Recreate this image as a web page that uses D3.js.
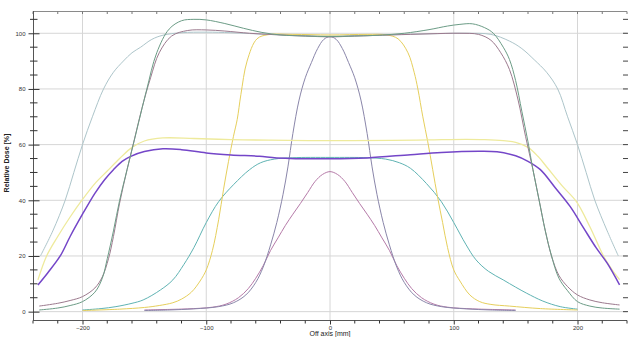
<!DOCTYPE html>
<html><head><meta charset="utf-8">
<script src="https://cdn.jsdelivr.net/npm/d3@7"></script>
<style>html,body{margin:0;padding:0;background:#fff;overflow:hidden}svg{display:block}</style>
</head><body><svg id="c" width="632" height="337"></svg>
<script>
// ---- data (offset in mm, relative dose in %) ----
const xTicks = [-200, -100, 0, 100, 200];
const yTicks = [0, 20, 40, 60, 80, 100];

const wideOffset = [-234,-224,-214,-207,-200,-192,-183,-175,-167,-160,-153,-144,-135,-120,-100,-80,-50,-20,0,20,50,80,110,130,145,155,165,175,184,192,200,207,214,224,233];
const wideDose   = [20,29,40,50,60,70,80,86,90,93,95,97.8,99.3,100.2,100.4,100.2,99.6,99.2,99,99.2,99.5,99.8,100,99.6,97.2,94.5,90.5,86,80,70,60,50,40,29,20];

const greenOffset = [-235,-220,-210,-200,-190,-184,-180,-175,-170,-164,-159,-153,-148,-140,-130,-120,-110,-100,-85,-70,-55,-40,-20,0,20,40,60,80,95,105,115,125,132,140,145,150,155,160,164,169,174,179,185,192,200,210,220,234];
const greenDose   = [0.6,1.3,2.2,3.6,7,12,19,29,40,51,60,71,80,93,101.5,104.5,105,104.8,103.5,101.8,100.3,99.4,99,98.8,99,99.3,100,101.3,102.6,103.2,103.4,102,100,95,90.6,83,72,61,51,40,29,20,12,7.5,3.6,2,1.3,0.9];

const mauveOffset = [-235,-220,-210,-200,-190,-184,-179,-175,-170,-164,-158,-152,-145,-138,-128,-115,-100,-85,-65,-45,-20,0,20,50,80,105,120,130,138,145,152,158,164,169,174,179,185,192,200,210,220,234];
const mauveDose   = [2,3,4,5.4,8.5,12.5,19,27,39,51,62,73,84,93,99,101,101.2,100.8,100,99.5,99,98.7,99,99.4,99.8,100,99.6,97.5,93,87,76,63,51,40,29,20,13,9,6,4.2,3.2,2.4];

const field20Offset = [-200,-170,-150,-138,-127,-120,-112,-105,-100,-95,-90,-86,-82,-78,-75,-72,-67,-59,-50,-30,0,30,46,55,63,68,71,75,79,83,87,91,95,100,105,113,121,130,145,170,200];
const field20Dose   = [0.4,0.9,1.5,2.2,3.2,4.5,7,11,15,22,33,44,54,63,69,78,90,98,99.5,99.6,99.4,99.6,99.4,98,93,86,80,70,61,51,41,32,23,15,11,6,3.6,2.6,2,1.1,0.6];

const narrowOffset = [-150,-130,-110,-90,-78,-68,-60,-54,-48,-43,-38,-34,-30,-25,-20,-15,-10,-5,0,5,10,15,20,25,30,34,38,43,48,54,60,68,78,90,110,130,150];
const narrowDose   = [0.4,0.6,1,1.8,3.2,6,10.5,16,24,32,42,52,64,76,84,89.5,94.5,97.8,98.8,97.8,94.5,89.5,84,76,64,52,42,32,24,16,10.5,6,3.2,1.8,1,0.6,0.4];

const paleOffset = [-236,-229,-220,-210,-200,-190,-180,-170,-160,-150,-135,-110,-80,-50,0,50,80,110,125,140,150,160,168,176,188,199,210,221,228,234];
const paleDose   = [11.4,20,27,34,40.3,46,50.5,55,59,61.3,62.4,62.2,61.8,61.6,61.4,61.5,61.7,61.9,61.8,61.4,60.8,59,55.8,51.5,45,39.6,30.5,20,15,11.5];

const purpleOffset = [-236,-228,-218,-210,-200,-190,-182,-175,-168,-161,-150,-135,-120,-100,-80,-57,-43,0,30,65,90,121,135,150,160,170,182,194,205,215,224,234];
const purpleDose   = [9.6,14,20,27,35,42.5,47.5,51,54,55.8,57.5,58.5,58.2,57,56.3,55.8,55.2,54.9,55.2,56.4,57.2,57.6,57.4,56,54,51,44.5,37.8,30,23,17.4,9.6];

const tealOffset = [-200,-185,-173,-160,-151,-137,-127,-118,-110,-100,-90,-78,-65,-56,-45,-30,0,30,45,56,65,78,90,100,110,118,128,140,150,159,172,186,200];
const tealDose   = [0.6,1.1,1.8,3,4.2,7.8,11.4,17,23,32,39.5,45.6,51,53.5,54.8,55.3,55.4,55.3,54.8,53.5,51.5,46,39.5,32,24,18.6,14.5,11.4,8.8,6.6,3.8,1.8,0.9];

const magentaOffset = [-150,-130,-115,-95,-84,-74,-66,-60,-54,-48,-42,-36,-30,-24,-18,-12,-6,0,6,12,18,24,30,36,42,48,54,60,66,74,84,95,115,130,150];
const magentaDose   = [0.6,0.8,1.0,1.6,2.7,5,8.3,12,16.5,22,26.5,31,35,38.8,42.8,46.8,49.3,50.3,49.3,46.8,42.8,38.8,35,31,26.5,22,16.5,12,8.3,5,2.7,1.6,1.0,0.8,0.6];

const series = [
  {x: wideOffset, y: wideDose, color: "#adc5ca", w: 1},
  {x: tealOffset, y: tealDose, color: "#5fb3b3", w: 1},
  {x: magentaOffset, y: magentaDose, color: "#b57aa8", w: 1},
  {x: narrowOffset, y: narrowDose, color: "#8a86aa", w: 1},
  {x: field20Offset, y: field20Dose, color: "#e6cf5c", w: 1},
  {x: paleOffset, y: paleDose, color: "#eeea9c", w: 1.3},
  {x: purpleOffset, y: purpleDose, color: "#7446c8", w: 1.5},
  {x: mauveOffset, y: mauveDose, color: "#9c7a8e", w: 1},
  {x: greenOffset, y: greenDose, color: "#6c9c86", w: 1}
];

// ---- chart ----
const svg = d3.select("#c");
const x = d3.scaleLinear().domain([-240, 240]).range([33, 627]);
const y = d3.scaleLinear().domain([-3, 108]).range([320, 11]);

// grid
svg.append("g").selectAll("line").data(xTicks).join("line")
  .attr("x1", d => x(d)).attr("x2", d => x(d)).attr("y1", y(108)).attr("y2", y(-3))
  .attr("stroke", "#d6d6d6").attr("stroke-width", 1);
svg.append("g").selectAll("line").data(yTicks).join("line")
  .attr("x1", x(-240)).attr("x2", x(240)).attr("y1", d => y(d)).attr("y2", d => y(d))
  .attr("stroke", "#d6d6d6").attr("stroke-width", 1);

// curves
const line = d3.line().curve(d3.curveCatmullRom.alpha(0.5));
svg.append("g").selectAll("path").data(series).join("path")
  .attr("d", s => line(s.x.map((v, i) => [x(v), y(s.y[i])])))
  .attr("fill", "none").attr("stroke", s => s.color).attr("stroke-width", s => s.w);

// frame: top line with small ticks
svg.append("line").attr("x1", x(-240)).attr("x2", x(240)).attr("y1", 11.5).attr("y2", 11.5)
  .attr("stroke", "#8a8a8a");
const minorX = d3.range(-240, 241, 20);
svg.append("g").selectAll("line").data(minorX).join("line")
  .attr("x1", d => x(d)).attr("x2", d => x(d)).attr("y1", 11.5).attr("y2", 14)
  .attr("stroke", "#777");

// right ticks
const minorY = d3.range(0, 106, 5);
svg.append("g").selectAll("line").data(minorY).join("line")
  .attr("x1", 623).attr("x2", 628).attr("y1", d => y(d)).attr("y2", d => y(d))
  .attr("stroke", "#444");

// left axis
const yAxis = d3.axisLeft(y).tickValues(yTicks).tickSize(6).tickPadding(2).tickFormat(d3.format("d"));
const gy = svg.append("g").attr("transform", "translate(33.5,0)").call(yAxis);
gy.select(".domain").attr("d", `M0,${y(108)}V${y(-3)}`).attr("stroke", "#555");
gy.selectAll(".tick line").attr("x1", -5).attr("x2", 6).attr("stroke", "#333");
gy.selectAll("text").attr("font-size", 6).attr("font-family", "Liberation Sans, Arial, sans-serif").attr("fill", "#333").attr("x", -8);
svg.append("g").selectAll("line").data(minorY.filter(d => d % 20 !== 0)).join("line")
  .attr("x1", 30).attr("x2", 37.5).attr("y1", d => y(d)).attr("y2", d => y(d))
  .attr("stroke", "#333");

// bottom axis
const xAxis = d3.axisBottom(x).tickValues(xTicks).tickSize(4).tickPadding(1).tickFormat(d3.format("d"));
const gx = svg.append("g").attr("transform", "translate(0,320.5)").call(xAxis);
gx.select(".domain").attr("d", `M${x(-240)},0H${x(240)}`).attr("stroke", "#555");
gx.selectAll(".tick line").attr("stroke", "#333");
gx.selectAll("text").attr("font-size", 6).attr("font-family", "Liberation Sans, Arial, sans-serif").attr("fill", "#333");
svg.append("g").selectAll("line").data(minorX.filter(d => d % 100 !== 0)).join("line")
  .attr("x1", d => x(d)).attr("x2", d => x(d)).attr("y1", 320.5).attr("y2", 323.5)
  .attr("stroke", "#333");

// axis titles
svg.append("text").attr("x", 330).attr("y", 335.5).attr("text-anchor", "middle")
  .attr("font-size", 7).attr("font-family", "Liberation Sans, Arial, sans-serif").attr("fill", "#222")
  .text("Off axis [mm]");
svg.append("text").attr("transform", "translate(8.5,163) rotate(-90)").attr("text-anchor", "middle")
  .attr("font-size", 7).attr("font-weight", "bold").attr("font-family", "Liberation Sans, Arial, sans-serif").attr("fill", "#222")
  .text("Relative Dose [%]");
</script></body></html>
